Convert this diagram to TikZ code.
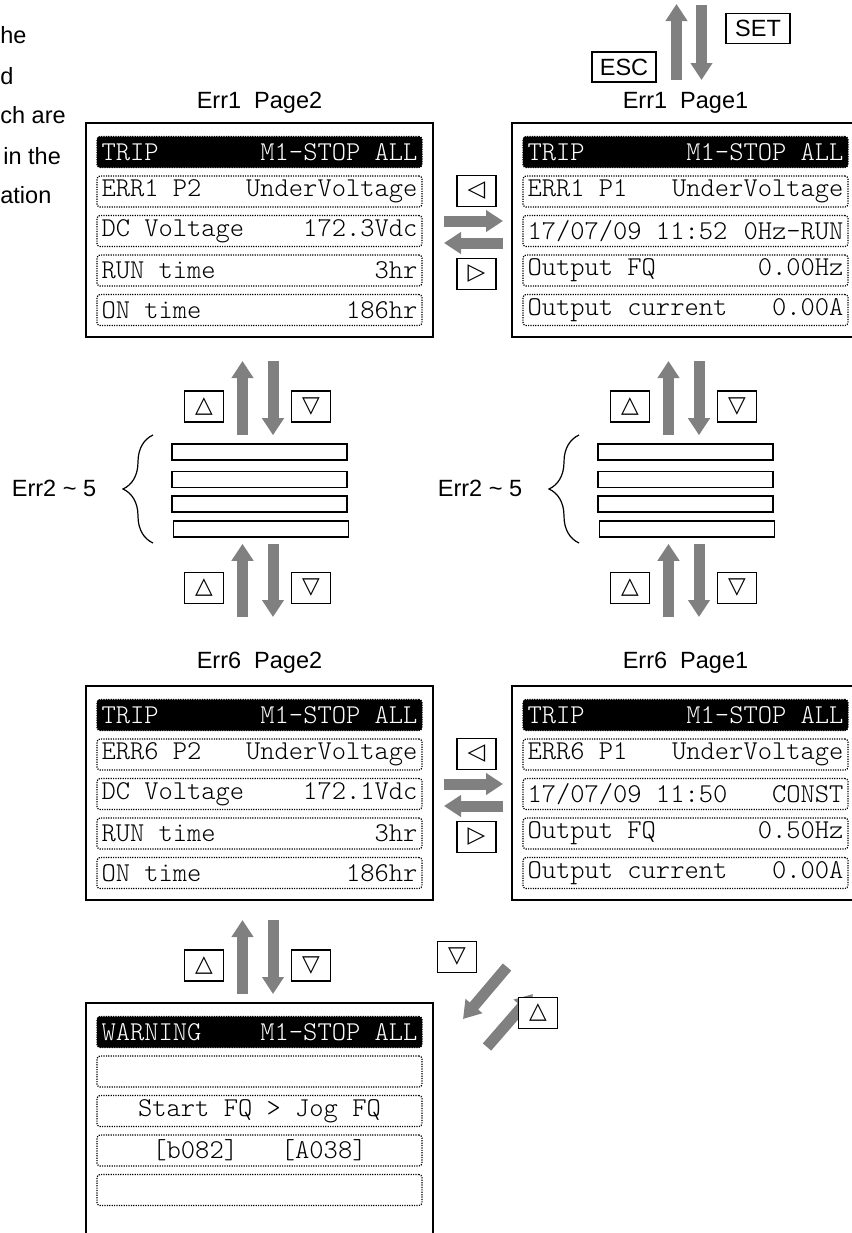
\documentclass[tikz,border=0pt]{standalone}
\usepackage{fontspec}
\setmainfont{Liberation Sans}
\newfontfamily\arrowkeyfont{DejaVu Sans}
\newfontfamily\lcdmono{Latin Modern Mono Light}
\newcommand\lcdfont{\lcdmono\fontsize{13.6}{15}\selectfont}
\newcommand\lcdsp{\hspace{0.525em}}
\usepackage{xcolor}
\usepackage{tikz}
\usetikzlibrary{calc,arrows.meta,decorations.pathreplacing}
\definecolor{arrowgray}{RGB}{128,128,128}

\begin{document}
\begin{tikzpicture}[x=0.5pt,y=-0.5pt,
	txt/.style={font=\fontsize{11.75}{14}\selectfont,inner sep=0pt},
	panel/.style={draw,line width=1pt,inner sep=0pt,minimum width=173.5pt,minimum height=107pt},
	lcdrow/.style={draw,line width=0.6pt,dash pattern=on 0.6pt off 0.6pt,rounded corners=1.5pt,
		minimum width=162.5pt,minimum height=15.5pt,inner sep=0pt,text width=158pt,font=\lcdfont},
	lcdhead/.style={lcdrow,fill=black,text=white},
	lcdmid/.style={lcdrow,align=center},
	key/.style={draw,line width=0.6pt,fill=white,minimum width=19.5pt,minimum height=15.5pt,
		inner sep=0pt,font=\arrowkeyfont\fontsize{11.5}{12}\selectfont},
	btn/.style={draw,line width=0.6pt,minimum width=32pt,minimum height=15pt,inner sep=0pt,
		font=\fontsize{11.75}{14}\selectfont},
	bar/.style={draw,line width=0.8pt,minimum width=87.5pt,minimum height=8pt,inner sep=0pt},
	grayarr/.style={draw=arrowgray,line width=5.5pt,-{Triangle[width=10.5pt,length=8.5pt]}},
	errbrace/.style={decorate,decoration={brace,amplitude=15pt},line width=0.6pt}]
			\useasboundingbox (0,0) rectangle (852,1233);
			\clip (0,0) rectangle (852,1233);
			\node[txt,anchor=west] (frag1) at (0,35) {he};
			\node[txt,anchor=west] (frag2) at (0,76) {d};
			\node[txt,anchor=west] (frag3) at (0,115) {ch are};
			\node[txt,anchor=west] (frag4) at (3,156) {in the};
			\node[txt,anchor=west] (frag5) at (0,195) {ation};
			\node[panel] (e1p2) at (259.5,230) {};
			\node[lcdhead] (e1p2r1) at (259.5,152) {TRIP\hfill M1-STOP\lcdsp ALL};
			\node[lcdrow] (e1p2r2) at (259.5,191.5) {ERR1\lcdsp P2\hfill UnderVoltage};
			\node[lcdrow] (e1p2r3) at (259.5,231) {DC\lcdsp Voltage\hfill 172.3Vdc};
			\node[lcdrow] (e1p2r4) at (259.5,270.5) {RUN\lcdsp time\hfill 3hr};
			\node[lcdrow] (e1p2r5) at (259.5,310) {ON\lcdsp time\hfill 186hr};
			\node[txt] (e1p2lbl) at (259.5,103) {Err1~~Page2};
			\node[panel] (e1p1) at (685.5,230) {};
			\node[lcdhead] (e1p1r1) at (685.5,152) {TRIP\hfill M1-STOP\lcdsp ALL};
			\node[lcdrow] (e1p1r2) at (685.5,191.5) {ERR1\lcdsp P1\hfill UnderVoltage};
			\node[lcdrow] (e1p1r3) at (685.5,231) {17/07/09\lcdsp 11:52\hfill 0Hz-RUN};
			\node[lcdrow] (e1p1r4) at (685.5,270.5) {Output\lcdsp FQ\hfill 0.00Hz};
			\node[lcdrow] (e1p1r5) at (685.5,310) {Output\lcdsp current\hfill 0.00A};
			\node[txt] (e1p1lbl) at (685.5,103) {Err1~~Page1};
			\node[panel] (e6p2) at (259.5,793) {};
			\node[lcdhead] (e6p2r1) at (259.5,715) {TRIP\hfill M1-STOP\lcdsp ALL};
			\node[lcdrow] (e6p2r2) at (259.5,754.5) {ERR6\lcdsp P2\hfill UnderVoltage};
			\node[lcdrow] (e6p2r3) at (259.5,794) {DC\lcdsp Voltage\hfill 172.1Vdc};
			\node[lcdrow] (e6p2r4) at (259.5,833.5) {RUN\lcdsp time\hfill 3hr};
			\node[lcdrow] (e6p2r5) at (259.5,873) {ON\lcdsp time\hfill 186hr};
			\node[txt] (e6p2lbl) at (259.5,663) {Err6~~Page2};
			\node[panel] (e6p1) at (685.5,793) {};
			\node[lcdhead] (e6p1r1) at (685.5,715) {TRIP\hfill M1-STOP\lcdsp ALL};
			\node[lcdrow] (e6p1r2) at (685.5,754.5) {ERR6\lcdsp P1\hfill UnderVoltage};
			\node[lcdrow] (e6p1r3) at (685.5,794) {17/07/09\lcdsp 11:50\hfill CONST};
			\node[lcdrow] (e6p1r4) at (685.5,833.5) {Output\lcdsp FQ\hfill 0.50Hz};
			\node[lcdrow] (e6p1r5) at (685.5,873) {Output\lcdsp current\hfill 0.00A};
			\node[txt] (e6p1lbl) at (685.5,663) {Err6~~Page1};
			\node[panel,minimum height=125pt] (warn) at (259.5,1128) {};
			\node[lcdhead] (warnr1) at (259.5,1032) {WARNING\hfill M1-STOP\lcdsp ALL};
			\node[lcdrow] (warnr2) at (259.5,1071.5) {};
			\node[lcdmid] (warnr3) at (259.5,1111) {Start\lcdsp FQ\lcdsp >\lcdsp Jog\lcdsp FQ};
			\node[lcdmid] (warnr4) at (259.5,1150.5) {[b082]\lcdsp\lcdsp\lcdsp [A038]};
			\node[lcdrow] (warnr5) at (259.5,1190) {};
			\node[bar] (lb1) at (259.5,452) {};
			\node[bar] (lb2) at (259.5,479.5) {};
			\node[bar] (lb3) at (259.5,504) {};
			\node[bar] (lb4) at (261,529) {};
			\node[bar] (rb1) at (685.5,452) {};
			\node[bar] (rb2) at (685.5,479.5) {};
			\node[bar] (rb3) at (685.5,504) {};
			\node[bar] (rb4) at (687,529) {};
			\draw[errbrace] (153,543) -- (153,435);
			\draw[errbrace] (579,543) -- (579,435);
			\node[txt] (lerr) at (54,488) {Err2 \textasciitilde{} 5};
			\node[txt] (rerr) at (480,488) {Err2 \textasciitilde{} 5};
			\draw[grayarr] ($(e1p1.north)+(-9,-42)$) -- ($(e1p1.north)+(-9,-118)$);
			\draw[grayarr] ($(e1p1.north)+(16,-117)$) -- ($(e1p1.north)+(16,-42)$);
			\node[btn] (esc) at (624,67) {ESC};
			\node[btn] (set) at (758,28.5) {SET};
			\draw[grayarr] ($(e1p2.east)+(10,-9)$) -- ($(e1p1.west)+(-8,-9)$);
			\draw[grayarr] ($(e1p1.west)+(-8,13)$) -- ($(e1p2.east)+(10,13)$);
			\node[key] (k1) at (476.5,191) {◁};
			\node[key] (k2) at (476.5,274) {▷};
			\draw[grayarr] ($(e6p2.east)+(10,-9)$) -- ($(e6p1.west)+(-8,-9)$);
			\draw[grayarr] ($(e6p1.west)+(-8,13)$) -- ($(e6p2.east)+(10,13)$);
			\node[key] (k3) at (476.5,754) {◁};
			\node[key] (k4) at (476.5,837) {▷};
			\draw[grayarr] ($(lb1.north)+(-17,-8)$) -- ($(e1p2.south)+(-17,23)$);
			\draw[grayarr] ($(e1p2.south)+(13.5,23)$) -- ($(lb1.north)+(13.5,-8)$);
			\node[key] (k5) at (204,406.5) {△};
			\node[key] (k6) at (311,406.5) {▽};
			\draw[grayarr] ($(e6p2.north)+(-17,-68)$) -- ($(lb4.south)+(-18.5,6)$);
			\draw[grayarr] ($(lb4.south)+(12,6)$) -- ($(e6p2.north)+(13.5,-68)$);
			\node[key] (k7) at (204,588) {△};
			\node[key] (k8) at (311,588) {▽};
			\draw[grayarr] ($(rb1.north)+(-17,-8)$) -- ($(e1p1.south)+(-17,23)$);
			\draw[grayarr] ($(e1p1.south)+(13.5,23)$) -- ($(rb1.north)+(13.5,-8)$);
			\node[key] (k9) at (630,406.5) {△};
			\node[key] (k10) at (737,406.5) {▽};
			\draw[grayarr] ($(e6p1.north)+(-17,-68)$) -- ($(rb4.south)+(-18.5,6)$);
			\draw[grayarr] ($(rb4.south)+(12,6)$) -- ($(e6p1.north)+(13.5,-68)$);
			\node[key] (k11) at (630,588) {△};
			\node[key] (k12) at (737,588) {▽};
			\draw[grayarr] ($(warn.north)+(-17,-8)$) -- ($(e6p2.south)+(-17,19)$);
			\draw[grayarr] ($(e6p2.south)+(13.5,19)$) -- ($(warn.north)+(13.5,-8)$);
			\node[key] (k13) at (204,965.5) {△};
			\node[key] (k14) at (311,965.5) {▽};
			\draw[grayarr] ($(e6p1.south west)+(-4,66)$) -- ($(warn.north east)+(29,17)$);
			\draw[grayarr] ($(warn.north east)+(53,45)$) -- ($(e6p1.south west)+(22,93)$);
			\node[key] (k15) at (457,957) {▽};
			\node[key] (k16) at (538,1013) {△};
		\end{tikzpicture}
\end{document}
